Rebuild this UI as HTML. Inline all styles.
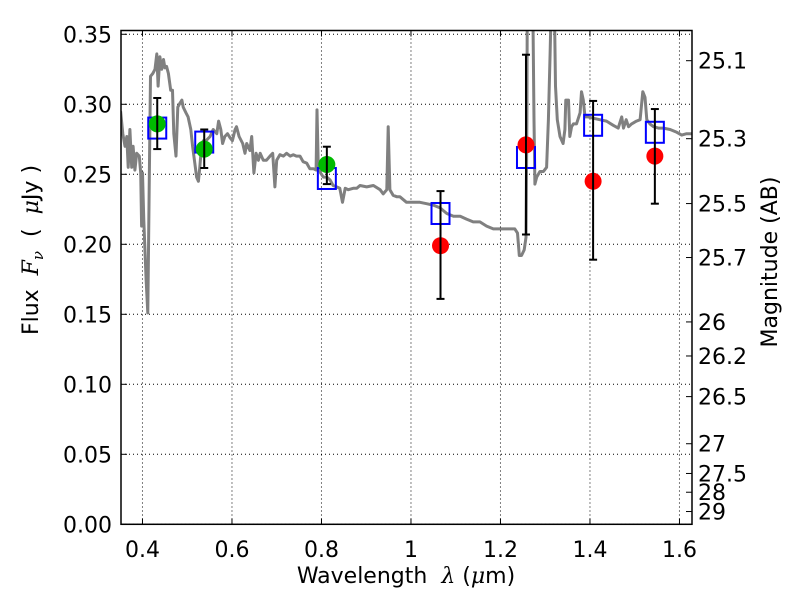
<!DOCTYPE html>
<html><head><meta charset="utf-8"><style>
body{margin:0;background:#fff}
svg{display:block;font-family:"DejaVu Sans","Liberation Sans",sans-serif}
</style></head><body>
<svg id="chart" width="800" height="600" viewBox="0 0 800 600">
<defs><clipPath id="clip"><rect x="121" y="30.5" width="571" height="494.5"/></clipPath></defs>
<rect x="0" y="0" width="800" height="600" fill="#fff"/>
<g id="grid"></g>
<g id="spec" clip-path="url(#clip)"></g>
<g id="marks"></g>
<g id="axes"></g>
<text x="38" y="250" transform="rotate(-90 38 250)" text-anchor="middle" font-size="22" xml:space="preserve">Flux  <tspan font-family="DejaVu Serif, serif" font-style="italic">F</tspan><tspan font-family="DejaVu Serif, serif" font-style="italic" font-size="15" dy="5">ν</tspan><tspan dy="-5">  (  </tspan><tspan font-family="DejaVu Serif, serif" font-style="italic">μ</tspan>Jy )</text>
<text x="777" y="262" transform="rotate(-90 777 262)" text-anchor="middle" font-size="22">Magnitude (AB)</text>
<text x="406" y="583" text-anchor="middle" font-size="22" xml:space="preserve">Wavelength  <tspan font-family="DejaVu Serif, serif" font-style="italic">λ</tspan> (<tspan font-family="DejaVu Serif, serif" font-style="italic">μ</tspan>m)</text>
</svg>
<script>
const xTicks=[0.4,0.6,0.8,1.0,1.2,1.4,1.6];
const xTickLabels=["0.4","0.6","0.8","1","1.2","1.4","1.6"];
const yTicks=[0,0.05,0.10,0.15,0.20,0.25,0.30,0.35];
const yTickLabels=["0.00","0.05","0.10","0.15","0.20","0.25","0.30","0.35"];
const magTicks=[25.1,25.3,25.5,25.7,26,26.2,26.5,27,27.5,28,29];
const magLabels=["25.1","25.3","25.5","25.7","26","26.2","26.5","27","27.5","28","29"];
const specWl=[0.351,0.356,0.361,0.365,0.368,0.372,0.376,0.379,0.383,0.387,0.393,0.396,0.398,0.400,0.403,0.408,0.412,0.415,0.418,0.423,0.428,0.432,0.435,0.439,0.443,0.447,0.450,0.454,0.458,0.463,0.467,0.470,0.475,0.479,0.484,0.488,0.491,0.497,0.502,0.508,0.512,0.517,0.521,0.525,0.528,0.532,0.536,0.542,0.551,0.558,0.566,0.570,0.575,0.579,0.584,0.590,0.596,0.601,0.607,0.610,0.616,0.624,0.629,0.633,0.640,0.644,0.649,0.654,0.659,0.663,0.670,0.677,0.685,0.691,0.696,0.700,0.707,0.715,0.722,0.730,0.737,0.744,0.752,0.759,0.767,0.774,0.782,0.788,0.790,0.793,0.798,0.804,0.812,0.819,0.826,0.834,0.841,0.847,0.853,0.860,0.871,0.879,0.886,0.901,0.916,0.931,0.938,0.946,0.949,0.953,0.960,0.968,0.975,0.990,1.005,1.020,1.035,1.050,1.065,1.080,1.095,1.110,1.124,1.139,1.154,1.169,1.184,1.199,1.214,1.232,1.238,1.242,1.247,1.253,1.257,1.259,1.260,1.272,1.275,1.277,1.281,1.288,1.296,1.303,1.307,1.311,1.314,1.320,1.323,1.327,1.333,1.340,1.344,1.346,1.352,1.355,1.359,1.363,1.370,1.378,1.381,1.385,1.389,1.396,1.408,1.422,1.437,1.452,1.463,1.471,1.475,1.481,1.486,1.493,1.504,1.512,1.518,1.523,1.527,1.534,1.542,1.553,1.564,1.579,1.594,1.605,1.616,1.628];
const specFlux=[0.295,0.279,0.270,0.277,0.255,0.282,0.255,0.270,0.253,0.265,0.263,0.251,0.213,0.251,0.217,0.175,0.151,0.241,0.320,0.322,0.325,0.336,0.313,0.334,0.325,0.332,0.326,0.327,0.322,0.310,0.310,0.279,0.263,0.298,0.301,0.303,0.298,0.294,0.291,0.282,0.270,0.258,0.248,0.245,0.255,0.270,0.274,0.274,0.277,0.282,0.279,0.288,0.282,0.272,0.277,0.279,0.276,0.274,0.282,0.284,0.277,0.272,0.265,0.272,0.267,0.277,0.251,0.265,0.260,0.265,0.260,0.260,0.263,0.265,0.241,0.260,0.264,0.263,0.265,0.263,0.264,0.263,0.263,0.259,0.258,0.254,0.254,0.253,0.296,0.255,0.251,0.248,0.248,0.246,0.242,0.241,0.240,0.230,0.240,0.239,0.240,0.240,0.242,0.241,0.242,0.239,0.236,0.239,0.284,0.239,0.235,0.234,0.234,0.230,0.230,0.230,0.229,0.228,0.226,0.222,0.220,0.220,0.218,0.216,0.216,0.213,0.211,0.211,0.211,0.211,0.208,0.192,0.192,0.196,0.205,0.289,0.38,0.38,0.289,0.243,0.248,0.252,0.252,0.255,0.289,0.336,0.38,0.38,0.313,0.289,0.277,0.272,0.282,0.303,0.303,0.277,0.284,0.286,0.286,0.294,0.309,0.303,0.291,0.291,0.290,0.289,0.288,0.285,0.283,0.291,0.283,0.289,0.284,0.286,0.288,0.289,0.309,0.305,0.289,0.286,0.284,0.283,0.283,0.282,0.280,0.278,0.279,0.279];
const bandWl=[0.433,0.538,0.812,1.066,1.257,1.407,1.545];
const modelFlux=[0.283,0.273,0.247,0.222,0.262,0.285,0.280];
const obsFlux=[0.286,0.268,0.257,0.199,0.271,0.245,0.263];
const errLo=[0.268,0.2545,0.243,0.161,0.207,0.189,0.229];
const errHi=[0.3045,0.282,0.2697,0.238,0.3354,0.3024,0.2966];
const obsColor=["#00bb00","#00bb00","#00bb00","#ff0000","#ff0000","#ff0000","#ff0000"];

const NS="http://www.w3.org/2000/svg";
const X0=121,X1=692,Y0=524.3,Y1=30.5;
const xMin=0.352,xMax=1.628,yMin=0,yMax=0.3527;
function sx(v){return X0+(v-xMin)/(xMax-xMin)*(X1-X0);}
function sy(v){return Y0-(v-yMin)/(yMax-yMin)*(Y0-Y1);}
function magToFlux(m){return Math.pow(10,(23.9-m)/2.5);}
function mk(tag,attrs,parent){const e=document.createElementNS(NS,tag);for(const k in attrs)e.setAttribute(k,attrs[k]);parent.appendChild(e);return e;}
const grid=document.getElementById('grid'),axes=document.getElementById('axes'),spec=document.getElementById('spec'),marks=document.getElementById('marks');

xTicks.forEach((t,i)=>{
  const x=sx(t);
  const g=mk('line',{x1:x,x2:x,y1:Y1,y2:Y0,stroke:'#000','stroke-width':1,'stroke-dasharray':'1,3'},grid);
  
  
  const tb=mk('line',{x1:x,x2:x,y1:Y0,y2:Y0-6,stroke:'#000','stroke-width':1},axes);
  
  
  const tt=mk('line',{x1:x,x2:x,y1:Y1,y2:Y1+6,stroke:'#000','stroke-width':1},axes);
  
  
  const l=mk('text',{x:x,y:557,'text-anchor':'middle','font-size':22},axes);
  l.textContent=xTickLabels[i];
  
  
});
yTicks.forEach((t,i)=>{
  const y=sy(t);
  const g=mk('line',{x1:X0,x2:X1,y1:y,y2:y,stroke:'#000','stroke-width':1,'stroke-dasharray':'1,3'},grid);
  
  
  const tk=mk('line',{x1:X0,x2:X0+6,y1:y,y2:y,stroke:'#000','stroke-width':1},axes);
  
  
  const l=mk('text',{x:112,y:y+8,'text-anchor':'end','font-size':22},axes);
  l.textContent=yTickLabels[i];
  
  
});
magTicks.forEach((m,i)=>{
  const y=sy(magToFlux(m));
  const tk=mk('line',{x1:X1-6,x2:X1,y1:y,y2:y,stroke:'#000','stroke-width':1},axes);
  
  
  const l=mk('text',{x:698,y:y+8,'text-anchor':'start','font-size':22},axes);
  l.textContent=magLabels[i];
  
  
});
const frame=mk('rect',{x:X0,y:Y1,width:X1-X0,height:Y0-Y1,fill:'none',stroke:'#000','stroke-width':1.5},axes);



const pts=specWl.map((w,i)=>sx(w).toFixed(1)+','+sy(specFlux[i]).toFixed(1)).join(' ');
const pl=mk('polyline',{points:pts,fill:'none',stroke:'#808080','stroke-width':3,'stroke-linejoin':'round'},spec);



bandWl.forEach((w,i)=>{
  const x=sx(w);
  const sq=mk('rect',{x:x-9,y:sy(modelFlux[i])-10.5,width:18,height:21,fill:'none',stroke:'#0000ff','stroke-width':2},marks);
  
  
  const c=mk('circle',{cx:x,cy:sy(obsFlux[i]),r:8.5,fill:obsColor[i]},marks);
  
  
  const eb=mk('g',{},marks);
  
  
  const yl=sy(errLo[i]),yh=sy(errHi[i]);
  mk('line',{x1:x,x2:x,y1:yl,y2:yh,stroke:'#000','stroke-width':2},eb);
  mk('line',{x1:x-4,x2:x+4,y1:yl,y2:yl,stroke:'#000','stroke-width':2},eb);
  mk('line',{x1:x-4,x2:x+4,y1:yh,y2:yh,stroke:'#000','stroke-width':2},eb);
});
</script>
</body></html>
